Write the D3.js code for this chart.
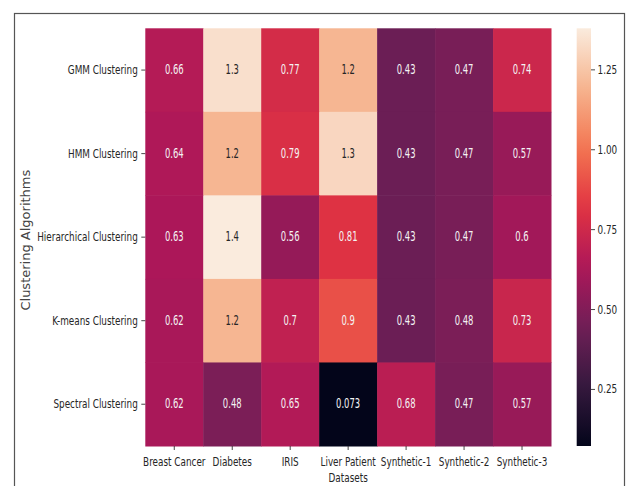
<!DOCTYPE html>
<html>
<head>
<meta charset="utf-8">
<script src="https://cdn.jsdelivr.net/npm/d3@7"></script>
<style>
  html, body { margin: 0; padding: 0; background: #fff; }
  svg { display: block; }
</style>
</head>
<body>
<svg id="chart" width="629" height="486"></svg>
<script>
const algorithms = ["GMM Clustering", "HMM Clustering", "Hierarchical Clustering", "K-means Clustering", "Spectral Clustering"];
const datasets = ["Breast Cancer", "Diabetes", "IRIS", "Liver Patient", "Synthetic-1", "Synthetic-2", "Synthetic-3"];
const gmmValues = [0.66, 1.34, 0.77, 1.2, 0.43, 0.47, 0.74];
const hmmValues = [0.64, 1.2, 0.79, 1.31, 0.43, 0.47, 0.57];
const hierarchicalValues = [0.63, 1.38, 0.56, 0.81, 0.43, 0.47, 0.6];
const kmeansValues = [0.62, 1.2, 0.7, 0.9, 0.43, 0.48, 0.73];
const spectralValues = [0.62, 0.48, 0.65, 0.073, 0.68, 0.47, 0.57];
const colorbarTicks = [0.25, 0.5, 0.75, 1.0, 1.25];
const xTitle = "Datasets";
const yTitle = "Clustering Algorithms";

// seaborn "rocket" colormap stops
const rocketStops = ["#03051A", "#35193E", "#701F57", "#AD1759", "#E13342", "#F37651", "#F6B48F", "#FAEBDD"];

(function () {
const rows = [gmmValues, hmmValues, hierarchicalValues, kmeansValues, spectralValues];
const cells = [];
rows.forEach((vals, i) => vals.forEach((v, j) => cells.push({row: algorithms[i], col: datasets[j], value: v})));

const vmin = d3.min(cells, d => d.value), vmax = d3.max(cells, d => d.value);
const tNorm = d3.scaleLinear().domain([vmin, vmax]).range([0, 1]);
const rocket = d3.scaleLinear()
  .domain(rocketStops.map((_, i) => i / (rocketStops.length - 1)))
  .range(rocketStops).interpolate(d3.interpolateRgb).clamp(true);
const color = v => rocket(tNorm(v));

const svg = d3.select("#chart");
const FONT = "'DejaVu Sans', sans-serif";

// outer frame
svg.append("rect").attr("x", 14.5).attr("y", 13.5).attr("width", 610).attr("height", 480)
  .attr("fill", "none").attr("stroke", "#555").attr("stroke-width", 1.2);

const pLeft = 145.3, pRight = 551, pTop = 28.3, pBottom = 446;
const x = d3.scaleBand().domain(datasets).range([pLeft, pRight]);
const y = d3.scaleBand().domain(algorithms).range([pTop, pBottom]);

function sText(g, tx, ty, txt, opts) {
  const o = Object.assign({size: 12.3, sx: 0.72, anchor: "middle", fill: "#262626", baseline: "central"}, opts || {});
  return g.append("text")
    .attr("transform", `translate(${tx},${ty}) scale(${o.sx},1)`)
    .attr("text-anchor", o.anchor)
    .attr("dominant-baseline", o.baseline)
    .attr("font-family", FONT)
    .attr("font-size", o.size)
    .attr("fill", o.fill)
    .text(txt);
}

// cells
svg.append("g").selectAll("rect").data(cells).join("rect")
  .attr("x", d => x(d.col)).attr("y", d => y(d.row))
  .attr("width", x.bandwidth() + 0.5).attr("height", y.bandwidth() + 0.5)
  .attr("fill", d => color(d.value));

function luminance(c) {
  const rgb = d3.rgb(c);
  const f = u => { u /= 255; return u <= 0.03928 ? u / 12.92 : Math.pow((u + 0.055) / 1.055, 2.4); };
  return 0.2126 * f(rgb.r) + 0.7152 * f(rgb.g) + 0.0722 * f(rgb.b);
}
const fmt = d3.format(".2~g");
const annG = svg.append("g");
cells.forEach(d => {
  const c = color(d.value);
  sText(annG, x(d.col) + x.bandwidth() / 2, y(d.row) + y.bandwidth() / 2, fmt(d.value),
    {size: 13.4, sx: 0.63, fill: luminance(c) > 0.408 ? "#262626" : "#f4f4f4"});
});

// y axis ticks and labels
const yAx = svg.append("g");
algorithms.forEach(a => {
  const cy = y(a) + y.bandwidth() / 2;
  yAx.append("line").attr("x1", pLeft - 4).attr("x2", pLeft).attr("y1", cy).attr("y2", cy)
    .attr("stroke", "#333").attr("stroke-width", 0.9);
  sText(yAx, pLeft - 7.5, cy, a, {anchor: "end"});
});

// x axis ticks and labels
const xAx = svg.append("g");
datasets.forEach(ds => {
  const cx = x(ds) + x.bandwidth() / 2;
  xAx.append("line").attr("x1", cx).attr("x2", cx).attr("y1", pBottom).attr("y2", pBottom + 4)
    .attr("stroke", "#333").attr("stroke-width", 0.9);
  sText(xAx, cx, pBottom + 20, ds, {baseline: "auto"});
});

// axis titles
sText(svg, (pLeft + pRight) / 2, 481.5, xTitle, {baseline: "auto"});
svg.append("text")
  .attr("transform", `translate(29.5,${(pTop + pBottom) / 2 + 3}) rotate(-90)`)
  .attr("text-anchor", "middle")
  .attr("font-family", FONT).attr("font-size", 13).attr("fill", "#444")
  .text(yTitle);

// colorbar
const cbX = 576.7, cbW = 14.3;
const cbScale = d3.scaleLinear().domain([vmin, vmax]).range([pBottom, pTop]);
const defs = svg.append("defs");
const grad = defs.append("linearGradient").attr("id", "cbgrad")
  .attr("x1", 0).attr("y1", 1).attr("x2", 0).attr("y2", 0);
d3.range(0, 1.0001, 0.05).forEach(t => {
  grad.append("stop").attr("offset", t).attr("stop-color", rocket(t));
});
svg.append("rect").attr("x", cbX).attr("y", pTop).attr("width", cbW).attr("height", pBottom - pTop)
  .attr("fill", "url(#cbgrad)");
const cbG = svg.append("g");
colorbarTicks.forEach(v => {
  const ty = cbScale(v);
  cbG.append("line").attr("x1", cbX + cbW).attr("x2", cbX + cbW + 4).attr("y1", ty).attr("y2", ty)
    .attr("stroke", "#333").attr("stroke-width", 0.9);
  sText(cbG, cbX + cbW + 6.5, ty, d3.format(".2f")(v), {anchor: "start"});
});
})();
</script>
</body>
</html>
